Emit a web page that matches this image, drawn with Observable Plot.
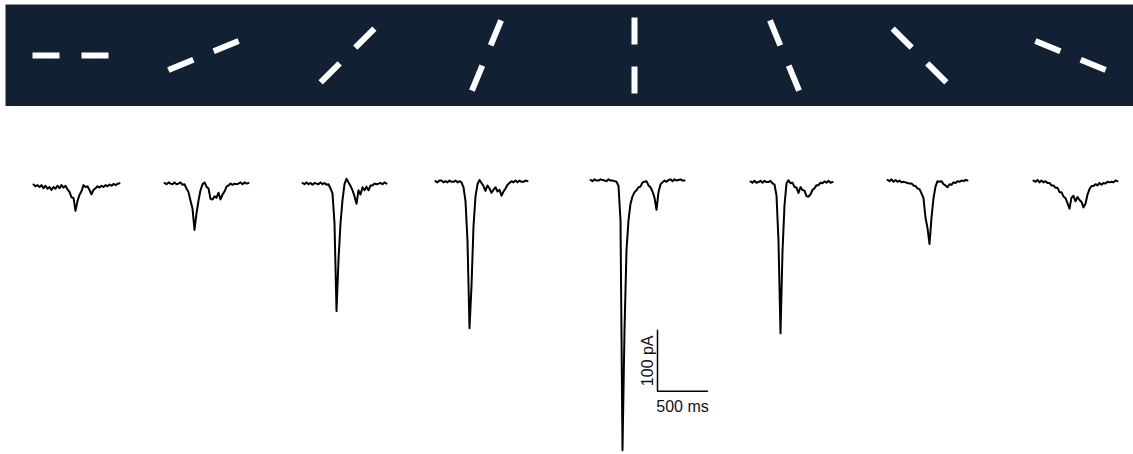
<!DOCTYPE html>
<html>
<head>
<meta charset="utf-8">
<script src="https://cdn.jsdelivr.net/npm/d3@7"></script>
<script src="https://cdn.jsdelivr.net/npm/@observablehq/plot@0.6"></script>
<style>
  html, body { margin: 0; padding: 0; background: #fff; }
  #figure svg { display: block; }
</style>
</head>
<body>
<div id="figure"></div>
<script>
// Grating orientation (degrees, counter-clockwise from horizontal) shown for each sweep
const orientations = [0, 22.5, 45, 67.5, 90, 112.5, 135, 157.5];
// Where each stimulus icon and each sweep sit along the display time axis (ms)
const stimulusAt = [700, 2030, 3470, 4860, 6340, 7840, 9190, 10700];
const sweepStart = [330, 1640, 3020, 4350, 5900, 7500, 8870, 10330];
// Resting level of each sweep (pA)
const baseline = [0, 2.5, 2.5, 5.5, 7.5, 5, 7.5, 6.5];
// Sampling interval of the traces (ms)
const sampleMs = 20;

// Membrane current of each sweep (pA)
const sweep1 = [0,-3,-1,-4,-1,-6,-2,-7,-4,-9, -4,-7,-2,-6,-1,-5,-2,-8,-12,-21,
  -22,-43,-27,-17,-11,-1,-4,-3,-9,-16, -9,-6,-3,-5,-2,-4,-1,-3,0,-2, 1,-1,1,2];
const sweep2 = [0,-2,1,-1,-2,1,-2,-1,1,-3, -2,-9,-15,-29,-42,-77,-50,-29,-12,-2,
  1,-6,-9,-26,-27,-22,-24,-16,-27,-19, -14,-6,-4,-1,-3,-1,-2,-1,1,-2, 1,-1,0];
const sweep3 = [0,-2,1,-2,0,-3,0,-1,-2,1, -2,0,-3,-2,-9,-17,-66,-210,-126,-66,
  -28,-2,7,1,-5,-12,-22,-34,-12,-19, -7,-12,-6,-12,-4,-4,-1,-2,-1,0, -2,1,-1];
const sweep4 = [0,-2,1,1,-2,0,-2,1,-1,-1, 1,-2,0,-2,-10,-33,-98,-241,-172,-74,
  -25,-5,2,-3,-8,-16,-7,-12,-19,-14, -10,-17,-14,-24,-17,-12,-6,-3,0,-2,
  1,-2,1,-1,-1,1,0];
const sweep5 = [0,-2,1,-1,-1,1,0,-1,-2,1, -1,-1,-2,-3,-10,-66,-443,-246,-115,-66,
  -39,-27,-20,-17,-12,-11,-4,-3,-2,-9, -12,-19,-29,-49,-20,-7,-4,-1,-3,0,
  1,-2,1,-1,0,1,-1,-1];
const sweep6 = [0,-2,1,-2,-1,1,-2,1,-1,-1, 1,-3,-5,-23,-98,-249,-115,-39,-3,2,
  -3,-2,-9,-10,-19,-9,-14,-15,-24,-25, -21,-14,-11,-6,-6,-2,-3,0,-2,1, -2,-1];
const sweep7 = [0,-2,1,-3,0,-3,-1,-4,-3,-4, -5,-6,-6,-9,-10,-14,-15,-22,-30,-62,
  -79,-105,-62,-30,-11,-2,-3,-2,-7,-9, -12,-7,-8,-4,-5,-2,-3,-1,-2,0, -1];
const sweep8 = [0,-2,1,-3,0,-3,-1,-4,-4,-8, -8,-12,-12,-19,-19,-26,-29,-37,-46,-28,
  -25,-34,-27,-32,-35,-44,-38,-23,-14,-9, -9,-6,-8,-4,-7,-4,-5,-2,-3,-2, -3,0,-1];
const sweeps = [sweep1, sweep2, sweep3, sweep4, sweep5, sweep6, sweep7, sweep8];

// Scale bar: corner position and extents
const scaleBarCorner = {t: 6570, v: -339};
const scaleBarMs = 500;
const scaleBarPA = 100;

// Long-format table for the line mark
const points = sweeps.flatMap((values, s) =>
  values.map((v, k) => ({sweep: s, t: sweepStart[s] + k * sampleMs, v: baseline[s] + v}))
);
const stimuli = orientations.map((angle, i) => ({angle, at: stimulusAt[i]}));

const W = 1133;
const xScale = {domain: [0, 11330], range: [0, W]};

// A stimulus is drawn as two collinear bars separated by a gap
const barGap = 11;
const dashPair = {
  draw(context, l) {
    context.moveTo(0, -barGap);
    context.lineTo(0, -barGap - l);
    context.moveTo(0, barGap);
    context.lineTo(0, barGap + l);
  }
};

const stimulusPanel = Plot.plot({
  width: W,
  height: 106,
  marginTop: 4,
  marginLeft: 5,
  marginRight: 0,
  marginBottom: 0,
  x: {...xScale, axis: null},
  marks: [
    Plot.frame({fill: "#112033", stroke: null}),
    Plot.vector(stimuli, {
      x: "at",
      rotate: d => 90 - d.angle,
      length: 27,
      anchor: "start",
      shape: dashPair,
      stroke: "white",
      strokeWidth: 6,
      strokeLinecap: "butt"
    })
  ]
});

const c = scaleBarCorner;
const tracePanel = Plot.plot({
  width: W,
  height: 348,
  margin: 0,
  x: {...xScale, axis: null},
  y: {domain: [-442.6, 127.9], axis: null},
  style: {fontFamily: "'Liberation Sans', Arial, sans-serif"},
  marks: [
    Plot.line(points, {x: "t", y: "v", z: "sweep", stroke: "#000", strokeWidth: 2}),
    Plot.line([
      {t: c.t, v: c.v + scaleBarPA},
      {t: c.t, v: c.v},
      {t: c.t + scaleBarMs, v: c.v}
    ], {x: "t", y: "v", stroke: "#000", strokeWidth: 1.5}),
    Plot.text([`${scaleBarPA} pA`], {
      x: c.t, y: c.v + scaleBarPA / 2, text: d => d,
      rotate: -90, dx: -10, fontSize: 16, fill: "#111", textAnchor: "middle"
    }),
    Plot.text([`${scaleBarMs} ms`], {
      x: c.t + scaleBarMs / 2, y: c.v, text: d => d,
      dy: 16, fontSize: 16, fill: "#111", textAnchor: "middle"
    })
  ]
});

const fig = document.getElementById("figure");
fig.append(stimulusPanel, tracePanel);
</script>
</body>
</html>
